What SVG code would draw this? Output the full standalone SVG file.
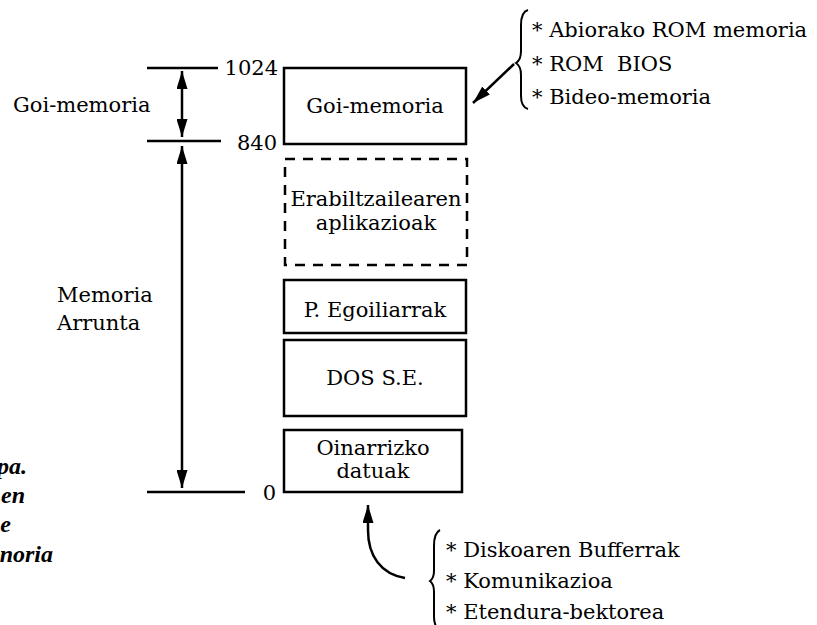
<svg xmlns="http://www.w3.org/2000/svg" width="817" height="625" viewBox="0 0 817 625">
<defs>
<marker id="ah" viewBox="0 0 18 11" refX="18" refY="5.5" markerWidth="18" markerHeight="11" markerUnits="userSpaceOnUse" orient="auto-start-reverse">
<path d="M0,0 L18,5.5 L0,11 z" fill="#000"/>
</marker>
<style>
.t{font-family:"DejaVu Serif","Liberation Serif",serif;font-size:21px;fill:#000}
.c{text-anchor:middle}
.r{text-anchor:end}
.cap{font-family:"Liberation Serif","DejaVu Serif",serif;font-size:24px;font-weight:bold;font-style:italic;fill:#000;text-anchor:end}
.box{fill:none;stroke:#000;stroke-width:2.5}
.dash{fill:none;stroke:#000;stroke-width:2.5;stroke-dasharray:10 8}
.ln{fill:none;stroke:#000;stroke-width:2.5}
.br{fill:none;stroke:#000;stroke-width:2}
</style>
</defs>
<rect width="817" height="625" fill="#fff"/>

<g id="caption">
<text class="cap" x="27" y="474">pa.</text>
<text class="cap" x="25" y="503">en</text>
<text class="cap" x="11" y="532">e</text>
<text class="cap" x="53" y="562">noria</text>
</g>

<g id="scale">
<line class="ln" x1="147" y1="68" x2="218" y2="68"/>
<line class="ln" x1="147" y1="141" x2="221" y2="141"/>
<line class="ln" x1="147" y1="492" x2="245" y2="492"/>
<text class="t r" x="278" y="75">1024</text>
<text class="t r" x="277" y="150">840</text>
<text class="t r" x="276" y="500">0</text>
<text class="t" x="13" y="112">Goi-memoria</text>
<text class="t" x="57" y="302">Memoria</text>
<text class="t" x="57" y="330">Arrunta</text>
</g>

<g id="goi-memoria">
<rect class="box" x="284" y="68" width="182" height="76"/>
<text class="t c" x="375" y="113">Goi-memoria</text>
</g>
<g id="erabiltzailearen">
<rect class="dash" x="285" y="159" width="182" height="106"/>
<text class="t c" x="376" y="206">Erabiltzailearen</text>
<text class="t c" x="376" y="230">aplikazioak</text>
</g>
<g id="egoiliarrak">
<rect class="box" x="284" y="280" width="182" height="53"/>
<text class="t c" x="375" y="317">P. Egoiliarrak</text>
</g>
<g id="dos">
<rect class="box" x="284" y="340" width="182" height="76"/>
<text class="t c" x="375" y="385">DOS S.E.</text>
</g>
<g id="oinarrizko">
<rect class="box" x="284" y="430" width="178" height="62"/>
<text class="t c" x="373" y="455">Oinarrizko</text>
<text class="t c" x="373" y="478">datuak</text>
</g>

<g id="rom-list">
<path class="br" d="M528,10 Q521,12 521,25 L521,51 Q521,60 516,63 Q521,66 521,75 L521,96 Q521,107 528,109"/>
<text class="t" x="532" y="37">* Abiorako ROM memoria</text>
<text class="t" x="532" y="71" xml:space="preserve">* ROM  BIOS</text>
<text class="t" x="532" y="104">* Bideo-memoria</text>
</g>

<g id="low-list">
<path class="br" d="M440,530 Q434,533 434,546 L434,571 Q434,578 430,581 Q434,584 434,592 L434,617 Q434,627 440,630"/>
<text class="t" x="446" y="557">* Diskoaren Bufferrak</text>
<text class="t" x="446" y="588">* Komunikazioa</text>
<text class="t" x="446" y="619">* Etendura-bektorea</text>
</g>

<g id="connectors">
<line class="ln" x1="182" y1="71" x2="182" y2="137" marker-start="url(#ah)" marker-end="url(#ah)"/>
<line class="ln" x1="182" y1="146" x2="182" y2="488" marker-start="url(#ah)" marker-end="url(#ah)"/>
<line class="ln" x1="514" y1="64" x2="473" y2="103" marker-end="url(#ah)"/>
<path class="ln" d="M405,578 C381,574 368,556 368,530 L368,505" marker-end="url(#ah)"/>
</g>
</svg>
